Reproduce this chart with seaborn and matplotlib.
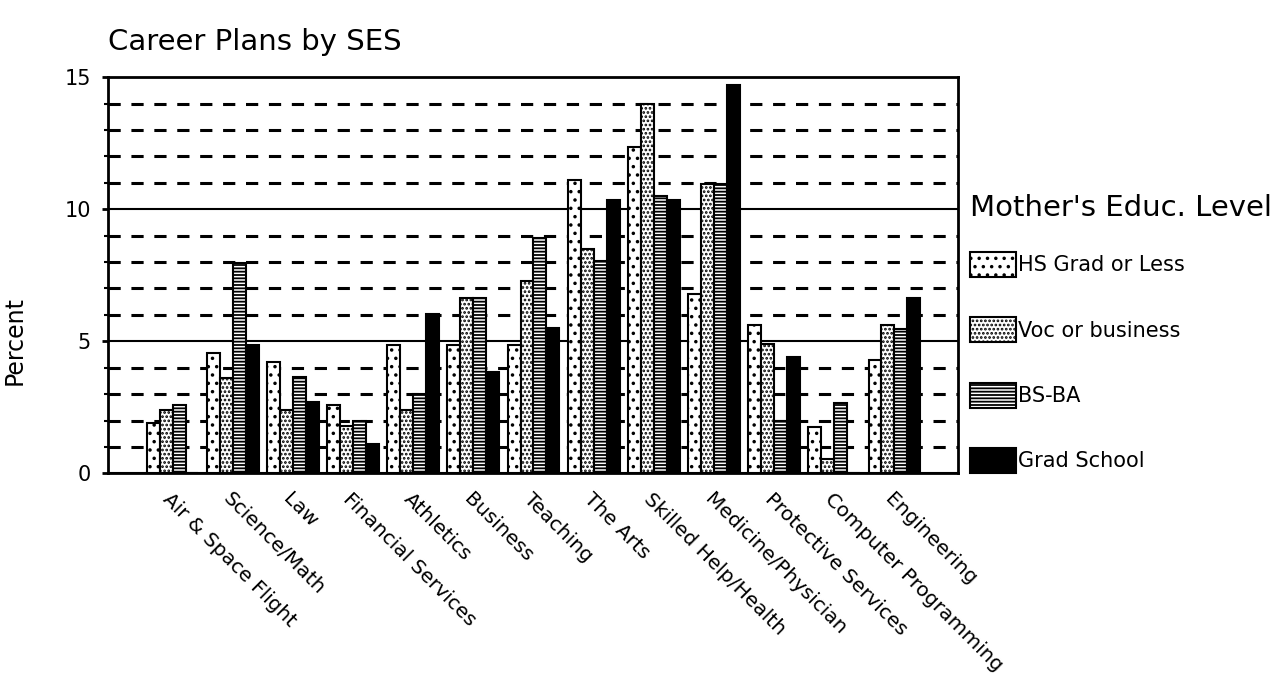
import pandas as pd
import matplotlib
matplotlib.use('Agg')
import matplotlib.pyplot as plt
from matplotlib.ticker import MultipleLocator
from matplotlib.patches import Patch
import seaborn as sns

careers = ['Air & Space Flight', 'Science/Math', 'Law', 'Financial Services', 'Athletics',
           'Business', 'Teaching', 'The Arts', 'Skilled Help/Health', 'Medicine/Physician',
           'Protective Services', 'Computer Programming', 'Engineering']
levels = ['HS Grad or Less', 'Voc or business', 'BS-BA', 'Grad School']
hs_grad = [1.9, 4.55, 4.2, 2.6, 4.85, 4.85, 4.85, 11.1, 12.35, 6.8, 5.6, 1.75, 4.3]
voc_bus = [2.4, 3.6, 2.4, 1.8, 2.4, 6.65, 7.3, 8.5, 14.0, 10.95, 4.9, 0.55, 5.6]
bs_ba = [2.6, 7.95, 3.65, 2.0, 3.0, 6.65, 8.9, 8.05, 10.5, 10.95, 2.0, 2.65, 5.45]
grad_school = [0, 4.85, 2.7, 1.1, 6.05, 3.85, 5.5, 10.35, 10.35, 14.7, 4.4, 0, 6.65]

df = pd.DataFrame({'Career': careers, levels[0]: hs_grad, levels[1]: voc_bus,
                   levels[2]: bs_ba, levels[3]: grad_school})
df = df.melt(id_vars='Career', var_name='Level', value_name='Percent')

sns.set_style('white')
plt.rcParams['font.family'] = ['DejaVu Sans']
plt.rcParams['hatch.linewidth'] = 1.3
for k in ['text.color', 'axes.labelcolor', 'xtick.color', 'ytick.color']:
    plt.rcParams[k] = 'black'

fig = plt.figure(figsize=(12.81, 6.83), dpi=100)
ax = fig.add_axes([0.084, 0.307, 0.664, 0.58])

colors = ['white', 'white', 'white', 'black']
hatches = ['..', '....', '-----', '']
ax = sns.barplot(data=df, x='Career', y='Percent', hue='Level', hue_order=levels,
                 palette=colors, edgecolor='black', linewidth=1.5, width=0.86,
                 saturation=1, ax=ax, legend=False, zorder=3)
for cont, h in zip(ax.containers, hatches):
    for p in cont.patches:
        p.set_hatch(h)

ax.set_ylim(0, 15)
ax.set_xlim(-1.08, len(careers) - 1 + 1.06)
ax.yaxis.set_major_locator(MultipleLocator(5))
ax.yaxis.set_minor_locator(MultipleLocator(1))
ax.grid(axis='y', which='major', color='black', linewidth=1.5, linestyle='-', zorder=0)
ax.grid(axis='y', which='minor', color='black', linewidth=2.2, linestyle=(0, (4, 3.5)), zorder=0)
ax.set_axisbelow(True)
for s in ax.spines.values():
    s.set_color('black')
    s.set_linewidth(2)
ax.tick_params(axis='y', which='major', left=True, length=4, width=2, labelsize=15, pad=8)
ax.tick_params(axis='y', which='minor', left=True, length=3, width=1.5)
ax.tick_params(axis='x', bottom=False, pad=8)
ax.set_xticks(range(len(careers)))
ax.set_xticklabels(careers, rotation=-45, ha='left', va='top', rotation_mode='anchor', fontsize=14.5)
ax.set_xlabel('')
ax.set_ylabel('Percent', fontsize=17)
ax.yaxis.set_label_coords(-0.095, 0.335)

fig.text(0.084, 0.938, 'Career Plans by SES', fontsize=21, ha='left', va='center')

handles = [Patch(facecolor=c, edgecolor='black', hatch=h, linewidth=1.5)
           for c, h in zip(colors, hatches)]
leg = ax.legend(handles, levels, title="Mother's Educ. Level", loc='lower left',
                bbox_to_anchor=(1.004, -0.02), frameon=False, fontsize=15,
                title_fontsize=21, handlelength=2.2, handleheight=1.45,
                labelspacing=1.95, handletextpad=0.1, borderaxespad=0.3,
                borderpad=0.1)
leg._legend_box.align = 'left'
leg._legend_box.sep = 22

fig.savefig('out.png', dpi=100)
